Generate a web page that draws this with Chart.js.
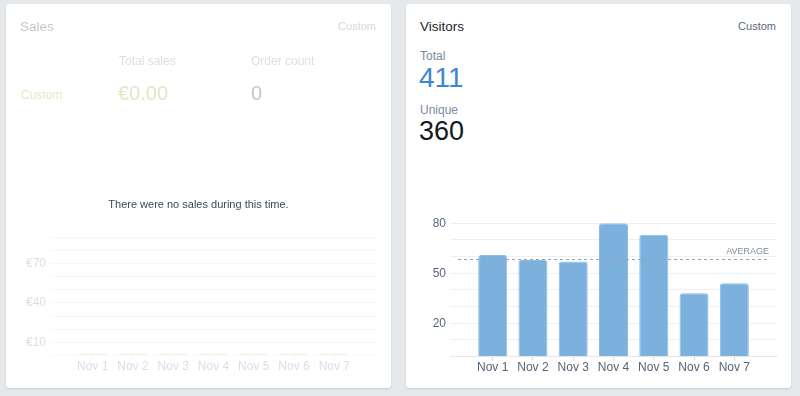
<!DOCTYPE html>
<html>
<head>
<meta charset="utf-8">
<script src="https://cdn.jsdelivr.net/npm/chart.js@4.4.1/dist/chart.umd.min.js"></script>
<style>
  html, body { margin: 0; padding: 0; }
  body { width: 800px; height: 396px; background: #e6e9ec; position: relative; overflow: hidden;
         font-family: "Liberation Sans", Arial, sans-serif; }
  .card { position: absolute; top: 4px; width: 385px; height: 384px; background: #fff;
          border-radius: 3px; box-shadow: 0 1px 2px rgba(0,0,0,0.13); }
  .fade { position: absolute; left: 0; top: 0; width: 100%; height: 100%; opacity: 0.28; }
  .t { position: absolute; white-space: nowrap; line-height: 1; }
  .cv { position: absolute; }
</style>
</head>
<body>

<div class="card" style="left:6px">
  <div class="fade">
    <div class="t" style="left:14px;top:16px;font-size:13.5px;color:#1c2530">Sales</div>
    <div class="t" style="right:15px;top:17px;font-size:11px;color:#5b6a7c">Custom</div>
    <div class="t" style="left:113px;top:51px;font-size:12px;color:#7a8aa0">Total sales</div>
    <div class="t" style="left:245px;top:51px;font-size:12px;color:#7a8aa0">Order count</div>
    <div class="t" style="left:15px;top:85px;font-size:12px;color:#7fae2e">Custom</div>
    <div class="t" style="left:112px;top:79px;font-size:20px;color:#7fae2e" id="salesTotal"></div>
    <div class="t" style="left:245px;top:79px;font-size:20px;color:#333">0</div>
    <canvas id="salesChart" class="cv" style="left:14px;top:222px;width:366px;height:148px"></canvas>
  </div>
  <div class="t" style="left:0;width:385px;text-align:center;top:195px;font-size:11px;color:#3a4a5e">There were no sales during this time.</div>
</div>

<div class="card" style="left:406px">
  <div class="t" style="left:14px;top:16px;font-size:13.5px;color:#1c2530">Visitors</div>
  <div class="t" style="right:15px;top:17px;font-size:11px;color:#5b6a7c">Custom</div>
  <div class="t" style="left:14px;top:46px;font-size:12px;color:#7a8aa0">Total</div>
  <div class="t" style="left:13px;top:60px;font-size:28px;color:#3d87d0" id="totalVisitors"></div>
  <div class="t" style="left:14px;top:100px;font-size:12px;color:#7a8aa0">Unique</div>
  <div class="t" style="left:13px;top:114px;font-size:27px;color:#141a20" id="uniqueVisitors"></div>
  <canvas id="visitorsChart" class="cv" style="left:14px;top:208px;width:366px;height:163px"></canvas>
</div>

<script>
const days = ['Nov 1', 'Nov 2', 'Nov 3', 'Nov 4', 'Nov 5', 'Nov 6', 'Nov 7'];
const visitorCounts = [61, 58, 57, 80, 73, 38, 44];
const salesAmounts = [0, 0, 0, 0, 0, 0, 0];
const totalVisitors = 411;
const uniqueVisitors = 360;
const visitorTickLabels = [20, 50, 80];
const salesTickLabels = [10, 40, 70];

document.getElementById('totalVisitors').textContent = totalVisitors;
document.getElementById('uniqueVisitors').textContent = uniqueVisitors;
document.getElementById('salesTotal').textContent = '€' + salesAmounts.reduce((a, b) => a + b, 0).toFixed(2);

Chart.defaults.font.family = '"Liberation Sans", Arial, sans-serif';
Chart.defaults.font.size = 12;
Chart.defaults.animation = false;

// dashed average line over the bars
const averageLine = {
  id: 'averageLine',
  afterDatasetsDraw(chart, args, opts) {
    if (!opts.show) return;
    const vals = chart.data.datasets[0].data.map(p => p.y);
    const avg = vals.reduce((a, b) => a + b, 0) / vals.length;
    const y = chart.scales.y.getPixelForValue(avg);
    const area = chart.chartArea;
    const ctx = chart.ctx;
    ctx.save();
    ctx.strokeStyle = '#97a3b3';
    ctx.lineWidth = 1;
    ctx.setLineDash([3, 3]);
    ctx.beginPath();
    ctx.moveTo(area.left + 8, Math.round(y) + 0.5);
    ctx.lineTo(area.right - 8, Math.round(y) + 0.5);
    ctx.stroke();
    ctx.setLineDash([]);
    ctx.fillStyle = '#7f8c9d';
    ctx.font = '9px "Liberation Sans", Arial, sans-serif';
    ctx.textAlign = 'right';
    ctx.textBaseline = 'bottom';
    ctx.fillText('AVERAGE', area.right - 8, y - 3);
    ctx.restore();
  }
};

function makeChart(id, values, labelsAt, prefix, yMax, barColor, barBorder, tickColor, gridColor, showAvg) {
  return new Chart(document.getElementById(id), {
    type: 'bar',
    data: {
      datasets: [{
        data: values.map((v, i) => ({ x: i, y: v })),
        backgroundColor: barColor,
        borderColor: barBorder,
        borderWidth: 1,
        borderRadius: { topLeft: 3, topRight: 3 },
        borderSkipped: 'bottom',
        minBarLength: 2,
        categoryPercentage: 1,
        barPercentage: 0.72
      }]
    },
    options: {
      responsive: false,
      layout: { padding: { top: 10, right: 9, left: 0, bottom: 0 } },
      plugins: {
        legend: { display: false },
        tooltip: { enabled: false },
        averageLine: { show: showAvg }
      },
      scales: {
        x: {
          type: 'linear',
          offset: false,
          min: -1.06,
          max: 7.06,
          afterBuildTicks: s => {
            s.ticks = s.ticks.filter(t => Number.isInteger(t.value) && t.value >= 0 && t.value < days.length);
          },
          ticks: { stepSize: 1, color: tickColor, padding: 0, autoSkip: false, maxRotation: 0,
                   callback: v => days[v] },
          grid: { offset: false, drawOnChartArea: false, drawTicks: true, tickLength: 4, color: '#d9dee4' },
          border: { display: true, color: '#e3e7eb' }
        },
        y: {
          min: 0,
          max: yMax,
          afterFit: s => { s.width = 30; },
          ticks: { stepSize: 10, color: tickColor, padding: 4, autoSkip: false,
                   callback: v => labelsAt.includes(v) ? prefix + v : '' },
          grid: { color: gridColor, drawTicks: false },
          border: { display: false }
        }
      }
    },
    plugins: [averageLine]
  });
}

makeChart('visitorsChart', visitorCounts, visitorTickLabels, '', 80,
  '#7cb1dd', '#8cbbe3', '#56647a', '#eef0f3', true);
makeChart('salesChart', salesAmounts, salesTickLabels, '€', 90,
  '#c9dc8e', '#c9dc8e', '#7a8699', '#d8dde3', false);
</script>
</body>
</html>
